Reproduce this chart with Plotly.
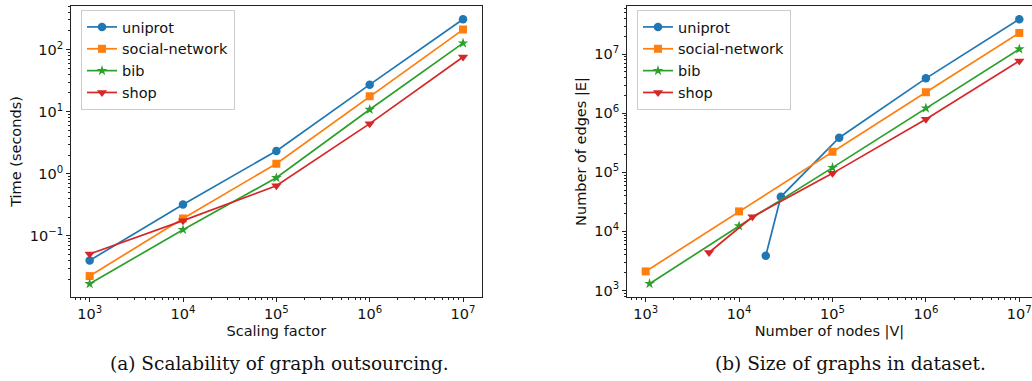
import plotly.graph_objects as go

# ---------------- data ----------------
series_names = ["uniprot", "social-network", "bib", "shop"]
colors = ["#1f77b4", "#ff7f0e", "#2ca02c", "#d62728"]
symbols = ["circle", "square", "star", "triangle-down"]
marker_sizes = [8.5, 8, 8, 9]

# (a) Scalability of graph outsourcing
scaling_factor = [1e3, 1e4, 1e5, 1e6, 1e7]
time_uniprot = [0.040, 0.32, 2.32, 27.2, 308]
time_social = [0.0224, 0.19, 1.45, 17.7, 210]
time_bib = [0.0168, 0.125, 0.86, 10.8, 127]
time_shop = [0.0507, 0.175, 0.64, 6.4, 76]

# (b) Size of graphs in dataset
nodes_uniprot = [19300, 28000, 118000, 1e6, 1e7]
edges_uniprot = [3870, 38500, 385000, 3.9e6, 3.9e7]
nodes_social = [1e3, 1e4, 1e5, 1e6, 1e7]
edges_social = [2100, 21800, 223000, 2.27e6, 2.29e7]
nodes_bib = [1100, 1e4, 1e5, 1e6, 1e7]
edges_bib = [1300, 12300, 120000, 1.22e6, 1.22e7]
nodes_shop = [4770, 13900, 1e5, 1e6, 1e7]
edges_shop = [4390, 17700, 96000, 7.9e5, 7.7e6]

x_tick_vals = [1e3, 1e4, 1e5, 1e6, 1e7]
x_tick_text = ["10<sup>3</sup>", "10<sup>4</sup>", "10<sup>5</sup>", "10<sup>6</sup>", "10<sup>7</sup>"]
y1_tick_vals = [0.1, 1, 10, 100]
y1_tick_text = ["10<sup>\u22121</sup>", "10<sup>0</sup>", "10<sup>1</sup>", "10<sup>2</sup>"]
y2_tick_vals = [1e3, 1e4, 1e5, 1e6, 1e7]
y2_tick_text = ["10<sup>3</sup>", "10<sup>4</sup>", "10<sup>5</sup>", "10<sup>6</sup>", "10<sup>7</sup>"]

captions = ["(a) Scalability of graph outsourcing.", "(b) Size of graphs in dataset."]
x_titles = ["Scaling factor", "Number of nodes |V|"]
y_titles = ["Time (seconds)", "Number of edges |E|"]

left_x = [scaling_factor] * 4
left_y = [time_uniprot, time_social, time_bib, time_shop]
right_x = [nodes_uniprot, nodes_social, nodes_bib, nodes_shop]
right_y = [edges_uniprot, edges_social, edges_bib, edges_shop]

# ---------------- figure ----------------
W, H = 1032, 381
FONT = "DejaVu Sans"
fig = go.Figure()

for i, name in enumerate(series_names):
    fig.add_trace(go.Scatter(
        x=left_x[i], y=left_y[i], name=name, mode="lines+markers",
        line=dict(color=colors[i], width=1.7),
        marker=dict(symbol=symbols[i], size=marker_sizes[i], color=colors[i], line=dict(width=0)),
        xaxis="x", yaxis="y", legend="legend",
    ))
for i, name in enumerate(series_names):
    fig.add_trace(go.Scatter(
        x=right_x[i], y=right_y[i], name=name, mode="lines+markers",
        line=dict(color=colors[i], width=1.7),
        marker=dict(symbol=symbols[i], size=marker_sizes[i], color=colors[i], line=dict(width=0)),
        xaxis="x2", yaxis="y2", legend="legend2",
    ))

def px_x(p):
    return p / W

def px_y(p):
    return 1 - p / H

axis_common = dict(
    type="log", showgrid=False, zeroline=False, showline=True, linecolor="#222222",
    linewidth=1, ticks="outside", ticklen=4, tickwidth=1, tickcolor="#222222",
    tickfont=dict(family=FONT, size=14.5, color="#111111"), automargin=False,
    ticklabeloverflow="allow",
    minor=dict(ticks="outside", ticklen=2, tickwidth=0.8, tickcolor="#222222", dtick="D1", showgrid=False),
)
title_font = dict(family=FONT, size=14.5, color="#111111")

dom_y = [px_y(297), px_y(6)]
legend_common = dict(
    xanchor="left", yanchor="top",
    bgcolor="rgba(255,255,255,0.8)", bordercolor="#cccccc", borderwidth=1,
    font=dict(family=FONT, size=14.5, color="#111111"), itemwidth=30, tracegroupgap=0,
)
fig.update_layout(
    width=W, height=H, margin=dict(l=0, r=0, t=0, b=0, autoexpand=False),
    paper_bgcolor="white", plot_bgcolor="white", showlegend=True,
    xaxis=dict(**axis_common, domain=[px_x(71), px_x(481.7)], range=[2.8, 7.2], anchor="y",
               mirror=True, tickvals=x_tick_vals, ticktext=x_tick_text,
               title=dict(text=x_titles[0], font=title_font, standoff=4)),
    yaxis=dict(**axis_common, domain=dom_y, range=[-1.987, 2.702], anchor="x",
               mirror=True, tickvals=y1_tick_vals, ticktext=y1_tick_text,
               title=dict(text=y_titles[0], font=title_font, standoff=4)),
    xaxis2=dict(**axis_common, domain=[px_x(627), 1.0], range=[2.8, 7.136], anchor="y2",
                mirror=True, tickvals=x_tick_vals, ticktext=x_tick_text,
                title=dict(text=x_titles[1], font=title_font, standoff=4)),
    yaxis2=dict(**axis_common, domain=dom_y, range=[2.889, 7.816], anchor="x2",
                mirror=False, tickvals=y2_tick_vals, ticktext=y2_tick_text,
                title=dict(text=y_titles[1], font=title_font, standoff=4)),
    legend=dict(**legend_common, x=px_x(81), y=px_y(10)),
    legend2=dict(**legend_common, x=px_x(637), y=px_y(10)),
)

cap_font = dict(family="DejaVu Serif", size=18.5, color="#111111")
fig.add_annotation(text=captions[0], x=px_x(279), y=px_y(363), xref="paper", yref="paper",
                   xanchor="center", yanchor="middle", showarrow=False, font=cap_font)
fig.add_annotation(text=captions[1], x=px_x(850), y=px_y(363), xref="paper", yref="paper",
                   xanchor="center", yanchor="middle", showarrow=False, font=cap_font)

fig.write_html(
    "out.html",
    config={"displayModeBar": False},
    post_script="document.body.style.margin='0';document.body.style.overflow='hidden';",
)
